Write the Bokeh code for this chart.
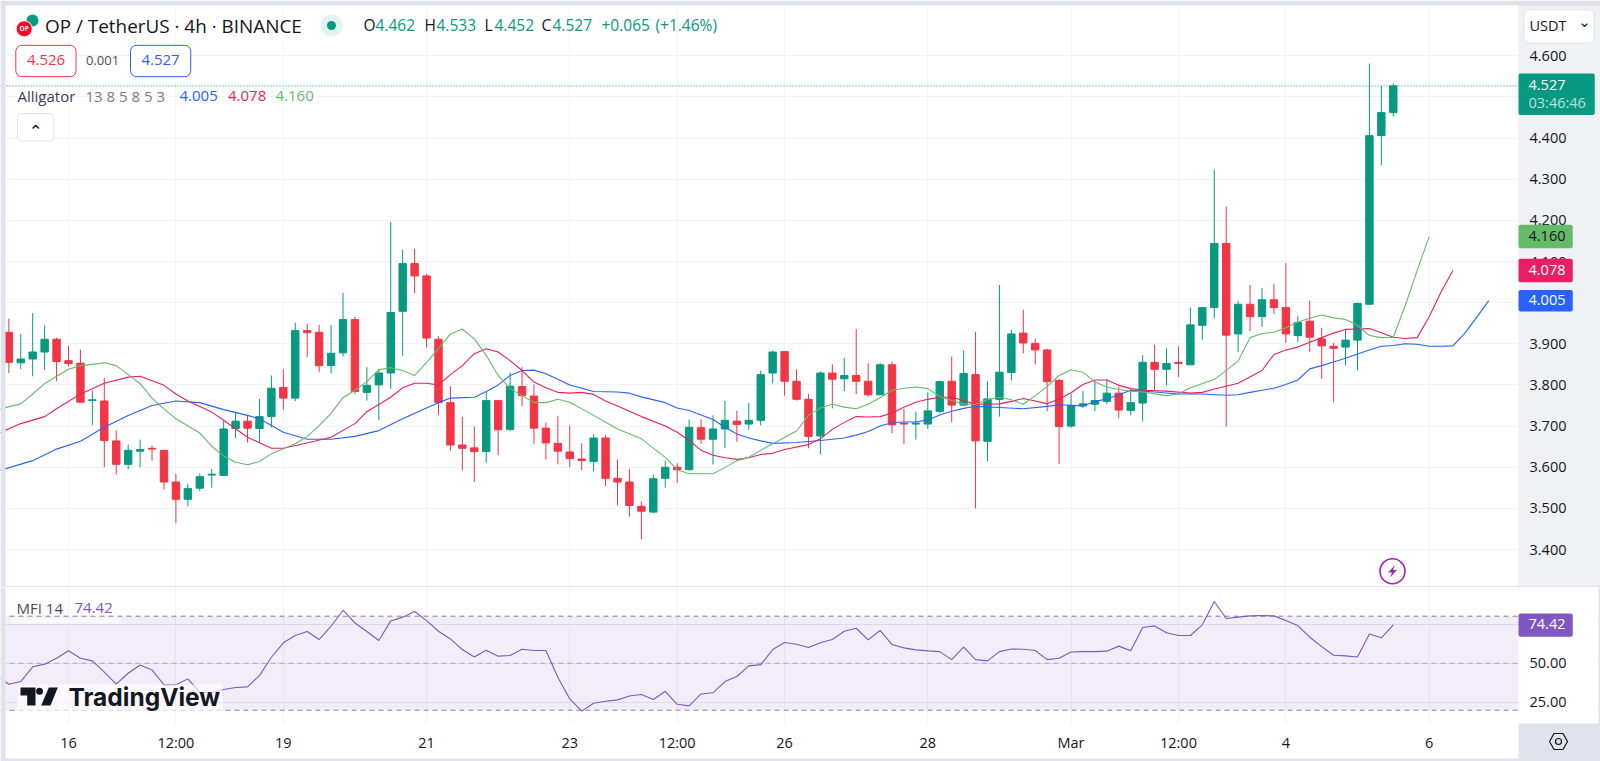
from bokeh.embed import file_html
from bokeh.layouts import column
from bokeh.models import BoxAnnotation, FixedTicker, Label, Range1d, Span, ColumnDataSource
from bokeh.plotting import figure
from bokeh.resources import INLINE

# ---------------- data ----------------
first_bar = -5
opens = [3.928,3.854,3.863,3.880,3.911,3.859,3.853,3.762,3.761,3.664,3.607,3.639,3.646,3.641,3.564,3.522,3.549,3.581,3.580,3.694,
         3.712,3.694,3.723,3.794,3.768,3.932,3.928,3.847,3.878,3.959,3.782,3.800,3.829,3.979,4.095,4.065,3.911,3.757,3.654,3.647,
         3.638,3.762,3.692,3.796,3.773,3.695,3.658,3.637,3.620,3.614,3.671,3.573,3.564,3.505,3.491,3.573,3.600,3.594,3.696,3.668,
         3.693,3.712,3.705,3.714,3.829,3.881,3.809,3.765,3.676,3.829,3.815,3.823,3.809,3.776,3.849,3.707,3.705,3.705,3.736,3.809,
         3.751,3.825,3.663,3.765,3.830,3.926,3.901,3.885,3.811,3.700,3.749,3.753,3.760,3.780,3.738,3.756,3.855,3.838,3.855,3.849,
         3.945,3.988,4.144,3.924,3.996,3.966,4.007,3.988,3.920,3.955,3.912,3.894,3.892,3.909,3.996,4.406,4.462]
closes = [3.855,3.863,3.880,3.911,3.857,3.852,3.758,3.764,3.665,3.607,3.641,3.643,3.644,3.564,3.522,3.548,3.577,3.583,3.693,3.712,
          3.695,3.723,3.792,3.768,3.932,3.927,3.847,3.877,3.959,3.784,3.799,3.829,3.976,4.095,4.065,3.914,3.757,3.654,3.646,3.638,
          3.762,3.691,3.797,3.774,3.695,3.659,3.639,3.621,3.616,3.671,3.573,3.564,3.507,3.493,3.572,3.600,3.594,3.697,3.668,3.693,
          3.714,3.704,3.714,3.825,3.880,3.809,3.765,3.675,3.829,3.814,3.823,3.809,3.776,3.849,3.703,3.705,3.707,3.737,3.808,3.751,
          3.828,3.664,3.766,3.831,3.924,3.902,3.885,3.808,3.699,3.750,3.754,3.762,3.780,3.739,3.757,3.855,3.838,3.852,3.852,3.946,
          3.988,4.144,3.921,3.996,3.966,4.007,3.988,3.924,3.952,3.916,3.895,3.889,3.909,3.998,4.406,4.462,4.527]
highs = [3.961,3.924,3.975,3.945,3.915,3.895,3.886,3.787,3.817,3.689,3.655,3.667,3.653,3.642,3.584,3.560,3.584,3.596,3.714,3.735,
         3.727,3.766,3.823,3.838,3.951,3.949,3.946,3.946,4.024,3.966,3.843,3.839,4.196,4.129,4.131,4.070,3.918,3.797,3.723,3.699,
         3.783,3.764,3.830,3.843,3.801,3.709,3.725,3.701,3.658,3.680,3.678,3.619,3.596,3.517,3.582,3.616,3.610,3.716,3.716,3.726,
         3.761,3.737,3.756,3.835,3.884,3.881,3.838,3.778,3.833,3.850,3.866,3.936,3.853,3.854,3.857,3.742,3.735,3.782,3.811,3.869,
         3.884,3.929,3.809,4.043,3.934,3.983,3.912,3.888,3.815,3.778,3.785,3.811,3.813,3.796,3.791,3.872,3.898,3.889,3.894,3.988,
         3.988,4.323,4.234,4.004,4.043,4.036,4.046,4.096,3.967,4.005,3.939,3.902,3.934,4.000,4.581,4.527,4.533]
lows = [3.829,3.839,3.821,3.837,3.809,3.846,3.757,3.703,3.600,3.582,3.595,3.600,3.616,3.546,3.464,3.505,3.542,3.550,3.580,3.671,
        3.660,3.659,3.697,3.740,3.761,3.867,3.831,3.828,3.869,3.778,3.762,3.714,3.791,3.871,4.023,3.891,3.727,3.640,3.592,3.564,
        3.611,3.629,3.688,3.749,3.657,3.619,3.607,3.600,3.593,3.590,3.554,3.507,3.480,3.425,3.488,3.550,3.562,3.592,3.657,3.607,
        3.646,3.662,3.691,3.702,3.804,3.774,3.762,3.646,3.631,3.743,3.785,3.778,3.772,3.776,3.683,3.657,3.667,3.693,3.731,3.710,
        3.749,3.500,3.615,3.723,3.811,3.877,3.850,3.736,3.608,3.696,3.744,3.736,3.753,3.719,3.726,3.711,3.787,3.799,3.819,3.849,
        3.910,3.962,3.699,3.880,3.931,3.941,3.973,3.902,3.904,3.880,3.815,3.758,3.847,3.835,3.996,4.334,4.452]

jaw_bars = [-6,-3,-1,1,3,5,7,9,11,13,15,16,18,20,22,24,26,28,30,31,32,34,35,36,37,38,39,40,41,42,44,46,47,48,50,51,52,54,55,56,57,58,59,61,63,65,66,67,68,69,70,71,72,73,74,75,76,78,80,82,83,85,86,87,88,89,90,91,93,95,97,98,99,100,101,102,103,104,105,106,107,108,109,110,111,112,113,114,115,116,117,118,119]
jaw_vals = [3.590,3.616,3.644,3.663,3.697,3.726,3.750,3.761,3.757,3.740,3.726,3.718,3.685,3.668,3.668,3.675,3.689,3.718,3.744,3.757,3.768,3.770,3.784,3.800,3.823,3.835,3.836,3.827,3.814,3.800,3.784,3.783,3.780,3.771,3.757,3.744,3.738,3.716,3.697,3.681,3.671,3.664,3.658,3.660,3.665,3.671,3.678,3.687,3.700,3.708,3.710,3.710,3.715,3.727,3.736,3.743,3.748,3.745,3.742,3.748,3.752,3.749,3.760,3.766,3.776,3.787,3.785,3.783,3.778,3.778,3.775,3.776,3.782,3.787,3.792,3.801,3.812,3.839,3.847,3.856,3.865,3.875,3.885,3.894,3.896,3.900,3.899,3.894,3.894,3.895,3.926,3.965,4.005]
teeth_bars = [-6,-4,-2,-1,1,3,5,6,8,9,10,12,13,15,17,18,20,22,24,25,27,28,29,30,31,32,33,34,35,36,37,38,39,40,41,42,43,44,45,46,48,50,51,52,53,54,55,56,57,58,59,60,62,63,64,65,66,67,68,69,70,71,72,73,74,75,76,78,79,80,81,82,83,84,85,86,87,88,89,90,92,94,95,96,98,100,101,102,103,104,105,106,107,108,109,110,111,112,113,114,115,116]
teeth_vals = [3.681,3.706,3.723,3.742,3.778,3.804,3.819,3.821,3.799,3.778,3.761,3.734,3.714,3.673,3.646,3.646,3.659,3.673,3.706,3.735,3.770,3.793,3.804,3.804,3.800,3.825,3.847,3.876,3.888,3.880,3.859,3.835,3.807,3.793,3.782,3.780,3.782,3.777,3.761,3.749,3.723,3.700,3.685,3.665,3.641,3.629,3.623,3.619,3.623,3.631,3.634,3.643,3.655,3.669,3.692,3.709,3.723,3.722,3.723,3.732,3.746,3.758,3.765,3.770,3.770,3.762,3.753,3.754,3.760,3.767,3.761,3.754,3.766,3.781,3.801,3.812,3.812,3.799,3.791,3.787,3.785,3.780,3.782,3.790,3.804,3.835,3.874,3.885,3.892,3.904,3.915,3.926,3.935,3.936,3.937,3.927,3.916,3.913,3.915,3.965,4.026,4.078]
lips_bars = [-6,-4,-3,-2,-1,0,1,2,3,4,5,6,7,8,9,11,12,13,14,15,16,17,18,19,20,21,22,23,24,25,26,27,28,29,30,31,32,33,34,35,36,37,38,39,40,41,42,44,46,48,50,51,52,54,55,56,57,58,59,61,62,63,64,65,66,67,68,69,70,71,72,73,74,75,76,77,78,79,80,81,82,83,84,85,86,87,88,89,90,92,93,94,96,98,99,100,101,102,103,104,105,106,107,108,109,110,111,112,113,114]
lips_vals = [3.740,3.754,3.778,3.803,3.821,3.838,3.847,3.850,3.854,3.847,3.825,3.803,3.768,3.742,3.718,3.683,3.651,3.627,3.612,3.606,3.614,3.633,3.645,3.657,3.675,3.701,3.731,3.769,3.787,3.808,3.837,3.842,3.835,3.823,3.855,3.888,3.924,3.936,3.912,3.872,3.823,3.791,3.774,3.757,3.757,3.765,3.758,3.726,3.693,3.669,3.624,3.594,3.584,3.584,3.599,3.616,3.624,3.641,3.657,3.688,3.726,3.744,3.753,3.746,3.742,3.753,3.769,3.787,3.792,3.795,3.791,3.772,3.762,3.754,3.753,3.764,3.770,3.764,3.753,3.774,3.796,3.823,3.837,3.831,3.807,3.795,3.789,3.785,3.783,3.774,3.778,3.793,3.813,3.858,3.915,3.925,3.928,3.939,3.953,3.962,3.970,3.963,3.959,3.945,3.920,3.915,3.916,3.993,4.078,4.160]

mfi_first_bar = -6
mfi_vals = [42.1,36.6,38.3,47.7,49.4,53.2,57.9,53.2,51.5,44.3,36.6,43.6,48.9,45.7,36.2,36.2,40.0,31.5,31.1,33.2,34.5,34.9,42.1,53.8,63.0,67.7,70.2,65.1,73.6,83.8,75.7,70.2,64.5,77.0,79.4,83.0,77.2,70.4,65.5,58.7,54.0,58.3,54.5,54.9,58.9,58.1,58.1,41.1,27.2,19.4,24.5,25.7,26.6,29.1,30.0,26.8,32.1,23.8,22.8,30.4,31.1,38.3,41.5,48.3,49.1,58.7,63.2,62.1,60.0,63.0,65.1,70.4,72.3,64.9,70.9,61.9,59.8,58.5,57.9,57.4,52.3,60.2,52.3,51.5,57.4,59.1,58.9,58.1,52.3,53.2,57.2,57.4,57.4,57.7,60.9,57.9,72.8,73.8,69.4,67.7,67.7,74.5,89.4,78.5,79.4,80.2,80.4,80.2,77.2,74.0,66.6,60.6,55.1,54.7,54.0,68.7,66.2,74.42]

price_ticks = [3.4,3.5,3.6,3.7,3.8,3.9,4.0,4.1,4.2,4.3,4.4,4.5,4.6]
price_tick_labels = ["3.400","3.500","3.600","3.700","3.800","3.900","4.000","4.100","4.200","4.300","4.400","4.500","4.600"]
mfi_ticks = [25,50,75]
mfi_tick_labels = ["25.00","50.00","75.00"]
time_bars = [0,9,18,30,42,51,60,72,84,93,102,114]
time_labels = ["16","12:00","19","21","23","12:00","26","28","Mar","12:00","4","6"]

UP, DOWN = "#089981", "#f23645"
JAW, TEETH, LIPS, MFI = "#2962ff", "#e91e63", "#66bb6a", "#7e57c2"
INK, GREY, LINE, AXIS_BG = "#131722", "#787b86", "#e0e3eb", "#eff1f5"
FONT = "Open Sans"

# ---------------- pixel helpers for the overlaid legend items ----------------
BAR_PX, ZERO_PX = 11.935, 68.0
LEFT, RIGHT = 5, 1518
W, H, SPLIT, SUB_BOT = 1600, 761, 587, 723

def fx(px): return (px - ZERO_PX) / BAR_PX
def my(py): return 3.9 - (py - 343.3) / 411.4
def ry(py): return 80 - (py - 615.7) / 1.567

def lab(fig, top, px, py, text, size, color, align="left", font=FONT, **kw):
    fig.add_layout(Label(x=px, y=py - top - 1, x_units="canvas", y_units="canvas", text=text, text_font=font,
                         text_font_size=f"{size}px", text_color=color, text_align=align, text_baseline="middle", **kw))

def box(fig, top, l, r, t, b, fill, border=None, radius=2):
    half = int(round((b - t) / 2))
    fig.add_layout(Label(x=l, y=(t + b) / 2 - top, x_units="canvas", y_units="canvas", text=" ", text_font=FONT,
                         text_font_size="1px", text_align="left", text_baseline="middle",
                         padding=(0, int(round(r - l)), half, half), background_fill_color=fill,
                         border_line_color=border, border_line_width=1, border_radius=radius))

def strip(fig, yf, l, r, t, b, color):
    fig.quad(left=[fx(l)], right=[fx(r)], top=[yf(t)], bottom=[yf(b)], fill_color=color, line_color=None)

def stroke(fig, yf, xs, ys, color=INK, width=1.4):
    fig.line([fx(v) for v in xs], [yf(v) for v in ys], line_color=color, line_width=width)

def style_axis(a, standoff):
    a.axis_line_color = None
    a.major_tick_line_color = None
    a.minor_tick_line_color = None
    a.major_label_standoff = standoff
    a.major_label_text_font = FONT
    a.major_label_text_font_size = "14.5px"
    a.major_label_text_color = INK

# ---------------- main pane ----------------
p = figure(width=W, height=SPLIT, output_backend="svg", toolbar_location=None,
           x_range=Range1d(fx(0), fx(W)), y_range=Range1d(my(SPLIT), my(0)),
           x_axis_location=None, y_axis_location="right",
           min_border_left=0, min_border_top=0, min_border_bottom=0, min_border_right=0,
           background_fill_color="#ffffff", outline_line_color=None)
p.xgrid.ticker = FixedTicker(ticks=time_bars)
p.ygrid.ticker = FixedTicker(ticks=price_ticks)
p.xgrid.grid_line_color = "#f0f3fa"
p.ygrid.grid_line_color = "#f0f3fa"
ax = p.yaxis[0]
ax.fixed_location = fx(RIGHT)
ax.ticker = FixedTicker(ticks=price_ticks)
ax.major_label_overrides = dict(zip(price_ticks, price_tick_labels))
style_axis(ax, 5)

p.add_layout(Span(location=closes[-1], dimension="width", line_color=UP, line_dash="1 2", line_width=1, level="underlay"))

bars = list(range(first_bar, first_bar + len(opens)))
colors = [UP if c >= o else DOWN for o, c in zip(opens, closes)]
src = ColumnDataSource(dict(x=bars, o=opens, c=closes, h=highs, l=lows, color=colors))
p.segment("x", "h", "x", "l", source=src, line_color="color", line_width=1)
p.vbar("x", 0.62, "o", "c", source=src, fill_color="color", line_color="color", line_width=1)

p.line(jaw_bars, jaw_vals, line_color=JAW, line_width=1.1)
p.line(teeth_bars, teeth_vals, line_color=TEETH, line_width=1.1)
p.line(lips_bars, lips_vals, line_color=LIPS, line_width=1.1)

# panel surroundings
strip(p, my, RIGHT, W, 0, SPLIT, AXIS_BG)
strip(p, my, 0, LEFT, 0, SPLIT, LINE)
strip(p, my, 0, W, 0, 5, LINE)
strip(p, my, 0, W, 585.5, SPLIT, LINE)

# header
p.scatter([fx(32)], [my(20)], size=12, marker="circle", fill_color=UP, line_color=None)
p.scatter([fx(23.7)], [my(28.3)], size=16, marker="circle", fill_color="#ff0420", line_color="#ffffff", line_width=1)
lab(p, 0, 23.7, 29, "OP", 6.5, "#ffffff", "center", text_font_style="bold")
lab(p, 0, 44.5, 26, "OP / TetherUS · 4h · BINANCE", 18.9, INK)
p.scatter([fx(331)], [my(25)], size=22, marker="circle", fill_color=UP, fill_alpha=0.12, line_color=None)
p.scatter([fx(331)], [my(25)], size=9, marker="circle", fill_color=UP, line_color=None)
for px, txt, col in [(363, "O", INK), (375, "4.462", UP), (424, "H", INK), (436, "4.533", UP), (484, "L", INK),
                     (494, "4.452", UP), (541, "C", INK), (552, "4.527", UP), (601, "+0.065", UP), (655, "(+1.46%)", UP)]:
    lab(p, 0, px, 25, txt, 15.5, col)

box(p, 0, 15.3, 75.7, 45.7, 75.3, "#ffffff", DOWN, 6)
lab(p, 0, 45.5, 60.5, "4.526", 15, DOWN, "center")
lab(p, 0, 102, 60.5, "0.001", 13, "#4a4e5a", "center")
box(p, 0, 130, 190, 45.7, 75.3, "#ffffff", JAW, 6)
lab(p, 0, 160, 60.5, "4.527", 15, JAW, "center")

for px, txt, col in [(17, "Alligator", "#3a3e4a"), (85, "13 8 5 8 5 3", GREY), (179, "4.005", JAW),
                     (227.5, "4.078", TEETH), (275, "4.160", LIPS)]:
    lab(p, 0, px, 96, txt, 15, col)

# collapse button and USDT selector
box(p, 0, 17, 52.5, 114, 139.5, "#ffffff", LINE, 4)
lab(p, 0, 35, 131, "⌃", 17, INK, "center", font="DejaVu Sans")
box(p, 0, 1523.5, 1593.5, 10, 42, "#ffffff", LINE, 6)
lab(p, 0, 1529, 26, "USDT", 14.5, INK)
lab(p, 0, 1584, 22, "⌄", 15, INK, "center", font="DejaVu Sans")

# price badges on the axis
box(p, 0, RIGHT, 1593.7, 74.3, 113.3, UP)
lab(p, 0, 1528, 85.7, "4.527", 14.5, "#ffffff")
lab(p, 0, 1528, 103, "03:46:46", 14.5, "#b5e0d9")
box(p, 0, RIGHT, 1572, 225.3, 246.7, LIPS)
lab(p, 0, 1528, 236, "4.160", 14.5, INK)
box(p, 0, RIGHT, 1572, 259.3, 280.7, TEETH)
lab(p, 0, 1528, 270, "4.078", 14.5, "#ffffff")
box(p, 0, RIGHT, 1572, 289.7, 310.7, JAW)
lab(p, 0, 1528, 300.2, "4.005", 14.5, "#ffffff")

# lightning badge
p.scatter([fx(1392)], [my(570.7)], size=25, marker="circle", fill_color="#ffffff", line_color="#9c27b0", line_width=1.6)
p.patch([fx(v) for v in (1394.5, 1387.5, 1391.5, 1389.5, 1396.5, 1392.5)],
        [my(v) for v in (564.5, 572, 572, 577, 569.5, 569.5)], fill_color="#9c27b0", line_color=None)

# ---------------- MFI pane ----------------
q = figure(width=W, height=H - SPLIT, output_backend="svg", toolbar_location=None,
           x_range=p.x_range, y_range=Range1d(ry(H), ry(SPLIT)), y_axis_location="right",
           min_border_left=0, min_border_top=0, min_border_bottom=0, min_border_right=0,
           background_fill_color="#ffffff", outline_line_color=None)
q.xgrid.ticker = FixedTicker(ticks=time_bars)
q.ygrid.ticker = FixedTicker(ticks=mfi_ticks)
q.xgrid.grid_line_color = "#f0f3fa"
q.ygrid.grid_line_color = "#e9e6f2"
ay = q.yaxis[0]
ay.fixed_location = fx(RIGHT)
ay.ticker = FixedTicker(ticks=mfi_ticks)
ay.major_label_overrides = dict(zip(mfi_ticks, mfi_tick_labels))
axx = q.xaxis[0]
axx.fixed_location = ry(SUB_BOT)
axx.ticker = FixedTicker(ticks=time_bars)
axx.major_label_overrides = dict(zip(time_bars, time_labels))
style_axis(ay, 5)
style_axis(axx, 3)

q.add_layout(BoxAnnotation(bottom=20, top=80, fill_color=MFI, fill_alpha=0.1, line_color=None, level="underlay"))
for lvl, alpha in [(80, 0.9), (50, 0.5), (20, 0.9)]:
    q.add_layout(Span(location=lvl, dimension="width", line_color=GREY, line_alpha=alpha, line_dash="5 4", line_width=1, level="underlay"))
q.quad(left=[fx(10)], right=[fx(120)], bottom=[ry(623)], top=[ry(617)], fill_color="#ffffff", fill_alpha=0.6, line_color=None)
mfi_bars = list(range(mfi_first_bar, mfi_first_bar + len(mfi_vals)))
q.line(mfi_bars, mfi_vals, line_color=MFI, line_width=1.1)

# panel surroundings
strip(q, ry, RIGHT, W - 2, SPLIT, SUB_BOT, "#ffffff")
strip(q, ry, 0, W, SUB_BOT, H, "#ffffff")
strip(q, ry, 0, LEFT, SPLIT, H, LINE)
strip(q, ry, W - 2, W, SPLIT, H, LINE)
strip(q, ry, RIGHT, W, SUB_BOT, H, LINE)
strip(q, ry, 0, W, 758, H, LINE)

lab(q, SPLIT, 16, 608, "MFI 14", 15, "#4a4e5a")
lab(q, SPLIT, 74, 608, "74.42", 15, MFI)
box(q, SPLIT, RIGHT, 1572, 614, 635.3, MFI)
lab(q, SPLIT, 1528, 624.7, "74.42", 14.5, "#ffffff")

# TradingView watermark
q.quad(left=[fx(17)], right=[fx(222)], bottom=[ry(712)], top=[ry(684)], fill_color="#ffffff", fill_alpha=0.65, line_color=None)
q.patch([fx(v) for v in (20, 35, 35, 26.7, 26.7, 20)], [ry(v) for v in (687, 687, 705, 705, 695, 695)], fill_color=INK, line_color=None)
q.patch([fx(v) for v in (48.3, 57.3, 50, 40.7)], [ry(v) for v in (687, 687, 705, 705)], fill_color=INK, line_color=None)
q.scatter([fx(39)], [ry(690.7)], size=7, marker="circle", fill_color=INK, line_color=None)
lab(q, SPLIT, 68, 697.5, "TradingView", 24.5, INK, font="Inter", text_font_style="bold")

# settings icon
stroke(q, ry, (1549, 1553.5, 1562.5, 1567, 1562.5, 1553.5, 1549), (741, 733, 733, 741, 749, 749, 741), INK, 1.2)
q.scatter([fx(1558)], [ry(741)], size=6, marker="circle", fill_color=None, line_color=INK, line_width=1.2)

layout = column(p, q, spacing=0)
open("out.html", "w").write(file_html(layout, INLINE))
